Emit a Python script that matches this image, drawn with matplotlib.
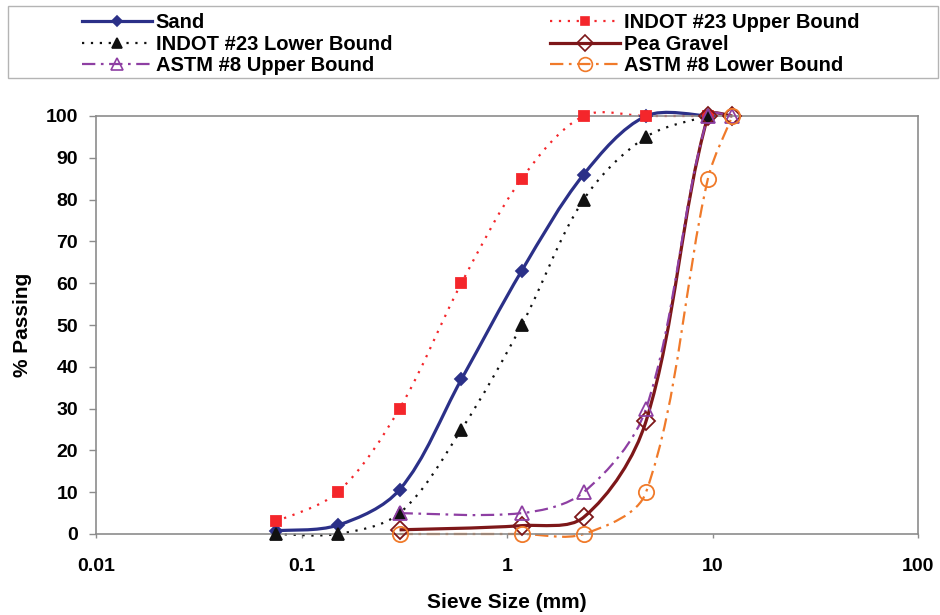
import numpy as np
import matplotlib
matplotlib.use("Agg")
import matplotlib.pyplot as plt
from matplotlib.path import Path
from matplotlib.patches import PathPatch, Rectangle
from matplotlib.lines import Line2D
from matplotlib.ticker import NullLocator

plt.rcParams['font.family'] = ['Liberation Sans', 'DejaVu Sans']
plt.rcParams['font.weight'] = 'bold'

# sieve sizes (mm) and percent passing
sand_sieve = [0.075, 0.15, 0.3, 0.6, 1.18, 2.36, 4.75, 9.5]
sand_pass = [0.8, 2.1, 10.6, 37, 63, 86, 100, 100]

indot_sieve = [0.075, 0.15, 0.3, 0.6, 1.18, 2.36, 4.75, 9.5]
indot_upper = [3, 10, 30, 60, 85, 100, 100, 100]
indot_lower = [0, 0, 5, 25, 50, 80, 95, 100]

gravel_sieve = [0.3, 1.18, 2.36, 4.75, 9.5, 12.5]
gravel_pass = [1, 2, 4, 27, 100, 100]

astm_sieve = [0.3, 1.18, 2.36, 4.75, 9.5, 12.5]
astm_upper = [5, 5, 10, 30, 100, 100]
astm_lower = [0, 0, 0, 10, 85, 100]

x_ticks = [0.01, 0.1, 1, 10, 100]
x_tick_labels = ['0.01', '0.1', '1', '10', '100']

# one decade on x is about as long as this many % on y
DECADE = 49.0


def smooth_path(xs, ys):
    # smoothed line: bezier segments through the points, control legs
    # from the neighbours, weighted by segment length (in log10(x) space)
    u = np.log10(xs) * DECADE
    v = np.asarray(ys, float)
    p = np.column_stack([u, v])
    n = len(p)
    d = np.hypot(*np.diff(p, axis=0).T)
    verts = [p[0]]
    codes = [Path.MOVETO]
    for i in range(n - 1):
        if i == 0:
            c1 = p[0] + (p[1] - p[0]) / 6
        else:
            c1 = p[i] + (p[i + 1] - p[i - 1]) * d[i] / (3 * (d[i - 1] + d[i]))
        if i + 1 == n - 1:
            c2 = p[i + 1] - (p[i + 1] - p[i]) / 6
        else:
            c2 = p[i + 1] - (p[i + 2] - p[i]) * d[i] / (3 * (d[i] + d[i + 1]))
        verts += [c1, c2, p[i + 1]]
        codes += [Path.CURVE4] * 3
    verts = np.array(verts)
    verts[:, 0] = 10 ** (verts[:, 0] / DECADE)
    return Path(verts, codes)


dot = (0, (1, 3))
dashdot = (0, (6, 2.5, 1.2, 2.5))

series = {
    "Sand": dict(x=sand_sieve, y=sand_pass, color='#2B3088', lw=2.3, ls='-',
                 marker='D', ms=6, mfc='#2B3088'),
    "INDOT #23 Upper Bound": dict(x=indot_sieve, y=indot_upper, color='#F4262B', lw=1.6,
                                  ls=dot, marker='s', ms=7, mfc='#F4262B'),
    "INDOT #23 Lower Bound": dict(x=indot_sieve, y=indot_lower, color='#111111', lw=1.6,
                                  ls=dot, marker='^', ms=8, mfc='#111111'),
    "Pea Gravel": dict(x=gravel_sieve, y=gravel_pass, color='#7D1719', lw=2.3, ls='-',
                       marker='D', ms=9, mfc='none'),
    "ASTM #8 Upper Bound": dict(x=astm_sieve, y=astm_upper, color='#8E3FA3', lw=1.6,
                                ls=dashdot, marker='^', ms=10, mfc='none'),
    "ASTM #8 Lower Bound": dict(x=astm_sieve, y=astm_lower, color='#F07A2A', lw=1.6,
                                ls=dashdot, marker='o', ms=11, mfc='none'),
}

fig = plt.figure(figsize=(9.4, 6.15), dpi=100)
ax = fig.add_axes([96 / 940, 1 - 534 / 615, 822 / 940, 418 / 615])

handles = {}
for name, s in series.items():
    patch = PathPatch(smooth_path(s["x"], s["y"]), fill=False, edgecolor=s["color"],
                      lw=s["lw"], linestyle=s["ls"], clip_on=False, zorder=2)
    ax.add_patch(patch)
    ax.plot(s["x"], s["y"], linestyle='none', marker=s["marker"], ms=s["ms"],
            mfc=s["mfc"], mec=s["color"], mew=1.3, clip_on=False, zorder=3)
    handles[name] = Line2D([], [], color=s["color"], lw=s["lw"], linestyle=s["ls"],
                           marker=s["marker"], ms=s["ms"] * 0.9, mfc=s["mfc"],
                           mec=s["color"], mew=1.2)

ax.set_xscale('log')
ax.set_xlim(0.01, 100)
ax.set_ylim(0, 100)
ax.set_xticks(x_ticks)
ax.set_xticklabels(x_tick_labels)
ax.xaxis.set_minor_locator(NullLocator())
ax.set_yticks(range(0, 101, 10))

for sp in ax.spines.values():
    sp.set_color('#8C8C8C')
    sp.set_linewidth(1.2)
ax.tick_params(axis='y', direction='out', length=5, width=1, color='#8C8C8C',
               labelsize=14, pad=8)
ax.tick_params(axis='x', direction='out', length=3, width=1, color='#8C8C8C',
               labelsize=14, pad=14)

fig.text(23 / 940, 1 - 325 / 615, '% Passing', rotation=90, ha='center', va='center',
         fontsize=15, fontweight='bold')
fig.text(507 / 940, 1 - 603 / 615, 'Sieve Size (mm)', ha='center', va='center',
         fontsize=15, fontweight='bold')

# legend box above the plot, two columns
left_col = ["Sand", "INDOT #23 Lower Bound", "ASTM #8 Upper Bound"]
right_col = ["INDOT #23 Upper Bound", "Pea Gravel", "ASTM #8 Lower Bound"]
leg_kw = dict(loc='upper left', frameon=False, borderpad=0, borderaxespad=0,
              handlelength=3.5, handletextpad=0.15, labelspacing=0.13,
              prop={'size': 14.5, 'weight': 'bold'})
fig.legend([handles[k] for k in left_col], left_col,
           bbox_to_anchor=(82 / 940, 1 - 13 / 615), **leg_kw)
fig.legend([handles[k] for k in right_col], right_col,
           bbox_to_anchor=(550 / 940, 1 - 13 / 615), **leg_kw)
fig.add_artist(Rectangle((8 / 940, 1 - 78 / 615), 930 / 940, 72 / 615,
                         transform=fig.transFigure, fill=False,
                         edgecolor='#B4B4B4', lw=1))

fig.savefig('out.png', dpi=100)
